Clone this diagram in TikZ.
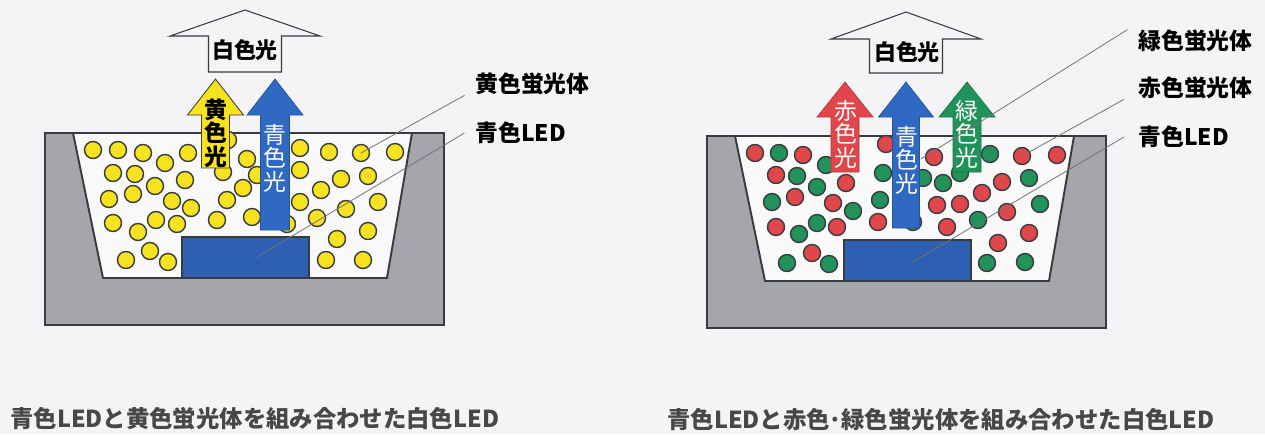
\documentclass[tikz,border=0pt]{standalone}
\usepackage{fontspec}
\newfontfamily\jpfont{Noto Sans CJK JP}

\definecolor{paper}{HTML}{F4F3F5}
\definecolor{housing}{HTML}{A5A6AB}
\definecolor{edge}{HTML}{383B40}
\definecolor{resin}{HTML}{F9F9FA}
\definecolor{ledblue}{HTML}{2D5FB2}
\definecolor{beamblue}{HTML}{3069C2}
\definecolor{phosyellow}{HTML}{F6E21E}
\definecolor{phosred}{HTML}{E0474B}
\definecolor{phosgreen}{HTML}{21935A}

% upward light arrow: style, x, tip y, head y, foot y, head half width, shaft half width
\newcommand{\beam}[7]{\draw[#1] (#2-#7,#5) -- (#2-#7,#4) -- (#2-#6,#4) -- (#2,#3)
  -- (#2+#6,#4) -- (#2+#7,#4) -- (#2+#7,#5) -- cycle;}

\tikzset{
  pkg/.style={fill=housing, draw=edge, line width=1.1pt},
  cavity/.style={fill=resin, draw=edge, line width=1.1pt},
  chip/.style={fill=ledblue, draw=edge, line width=0.8pt},
  ydot/.style={fill=phosyellow, draw=edge, line width=0.8pt},
  rdot/.style={fill=phosred, draw=edge, line width=0.8pt},
  gdot/.style={fill=phosgreen, draw=edge, line width=0.8pt},
  whitebeam/.style={fill=paper, draw=edge, line width=0.6pt},
  leader/.style={draw=black!55, line width=0.45pt},
  tag/.style={inner sep=0pt, text=black, font=\jpfont\bfseries\fontsize{13}{13.4}\selectfont},
  stack/.style={inner sep=0pt, align=center, font=\jpfont\fontsize{13}{13.4}\selectfont},
  caption/.style={inner sep=0pt, anchor=west, text=black!72, font=\jpfont\bfseries\fontsize{13.3}{14}\selectfont}
}

\begin{document}
\begin{tikzpicture}[x=0.02cm, y=-0.02cm]
  \useasboundingbox (0,0) rectangle (1265,434);
  \fill[paper] (0,0) rectangle (1265,434);

  % housings with resin cavity and chip
  \foreach \dx/\dy in {0/0, 662/3} {
    \begin{scope}[shift={(\dx,\dy)}]
      \draw[pkg] (45,133) rectangle (444,325);
      \draw[cavity] (73,133) -- (103,278) -- (387,278) -- (412,133) -- cycle;
      \draw[chip] (182,237) rectangle (309,278);
    \end{scope}
  }

  % yellow phosphor
  \foreach \x/\y in {93/150, 118/150, 143/153, 165/163, 188/153, 228/140,
    113/173, 135/174, 155/186, 185/180, 223/172,
    109/199, 133/194, 172/201, 191/208, 227/200, 243/188,
    113/223, 138/232, 156/220, 177/224, 217/220,
    126/260, 150/251, 168/262,
    247/159, 257/175, 252/217, 287/224,
    300/148, 300/170, 300/202, 329/152, 361/153, 395/152,
    341/179, 368/176, 321/190, 346/209, 378/202,
    317/218, 368/231, 337/239, 326/260, 363/260}
    \draw[ydot] (\x,\y) circle (8.5);

  % red and green phosphor
  \foreach \x/\y in {755/153, 803/155, 776/175, 846/183, 795/197, 833/203,
    776/227, 837/227, 812/253, 886/144, 878/222, 934/157, 1022/156, 1057/155,
    1002/182, 982/193, 937/205, 960/204, 1007/212, 947/227, 1029/233, 998/243}
    \draw[rdot] (\x,\y) circle (8.5);
  \foreach \x/\y in {779/153, 826/165, 797/176, 817/187, 772/202, 853/211,
    799/234, 817/223, 787/263, 829/264, 883/173, 880/200, 923/178, 943/183,
    960/173, 990/154, 1029/178, 1040/204, 978/220, 913/222, 987/263, 1025/262}
    \draw[gdot] (\x,\y) circle (8.5);

  % emitted light
  \beam{fill=phosyellow, draw=black!75, line width=0.5pt}{215.5}{79}{115}{168}{28}{14}
  \beam{fill=beamblue, draw=beamblue!80!black, line width=0.4pt}{275}{79}{115}{230}{28}{14.5}
  \beam{whitebeam}{245}{10}{36}{72}{75}{36.5}
  \beam{fill=phosred, draw=phosred!80!black, line width=0.4pt}{845}{82}{117}{172}{28}{14}
  \beam{fill=beamblue, draw=beamblue!80!black, line width=0.4pt}{906}{82}{117}{228}{27.5}{13.5}
  \beam{fill=phosgreen, draw=phosgreen!80!black, line width=0.4pt}{967}{82}{117}{172}{28}{14}
  \beam{whitebeam}{906}{12}{39}{73}{75}{36.5}

  \node[stack, font=\jpfont\bfseries\fontsize{13}{13.4}\selectfont, text=black] (ylight) at (215.5,133) {黄\\色\\光};
  \node[stack, text=white] (blight) at (274.5,158) {青\\色\\光};
  \node[tag, font=\jpfont\bfseries\fontsize{12.5}{13}\selectfont] (wlight) at (245,50) {白色光};
  \node[stack, text=white] (rlight) at (845.5,134) {赤\\色\\光};
  \node[stack, text=white] (blight2) at (906.5,160) {青\\色\\光};
  \node[stack, text=white] (glight) at (967,134) {緑\\色\\光};
  \node[tag, font=\jpfont\bfseries\fontsize{12.5}{13}\selectfont] (wlight2) at (907,52) {白色光};

  % part labels
  \node[tag, anchor=west] (yphos) at (475,84) {黄色蛍光体};
  \node[tag, anchor=west] (bled) at (475,133) {青色LED};
  \node[tag, anchor=west] (gphos) at (1138,41) {緑色蛍光体};
  \node[tag, anchor=west] (rphos) at (1138,88) {赤色蛍光体};
  \node[tag, anchor=west] (bled2) at (1138,137) {青色LED};

  \coordinate (ydot) at (361,153);
  \coordinate (ychip) at (257,257);
  \coordinate (gdot) at (921,159);
  \coordinate (rdot) at (1022,156);
  \coordinate (rchip) at (913,262);
  \draw[leader] ([xshift=-6]yphos.south west) -- (ydot);
  \draw[leader] ([xshift=-6]bled.west) -- (ychip);
  \draw[leader] ([xshift=-6]gphos.north west) -- (gdot);
  \draw[leader] ([xshift=-8]rphos.south west) -- (rdot);
  \draw[leader] ([xshift=-8]bled2.west) -- (rchip);

  \node[caption] (capl) at (10,419) {青色LEDと黄色蛍光体を組み合わせた白色LED};
  \node[caption] (capr) at (667,420) {青色LEDと赤色･緑色蛍光体を組み合わせた白色LED};
\end{tikzpicture}
\end{document}
